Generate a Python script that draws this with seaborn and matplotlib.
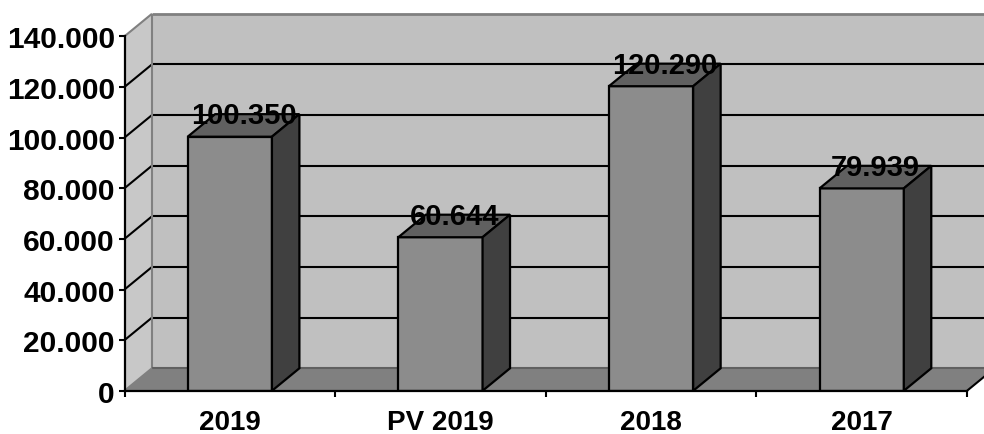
import matplotlib
matplotlib.use("Agg")
import matplotlib.pyplot as plt
from matplotlib.patches import Polygon
import pandas as pd
import seaborn as sns

categories = ["2019", "PV 2019", "2018", "2017"]
values = [100350, 60644, 120290, 79939]
value_labels = ["100.350", "60.644", "120.290", "79.939"]
y_ticks = [0, 20000, 40000, 60000, 80000, 100000, 120000, 140000]
y_tick_labels = ["0", "20.000", "40.000", "60.000", "80.000", "100.000", "120.000", "140.000"]

sns.set_style("white")
plt.rcParams["font.family"] = ["Liberation Sans", "DejaVu Sans"]
plt.rcParams["font.weight"] = "bold"

W, H = 984, 435
fig = plt.figure(figsize=(W / 100, H / 100), dpi=100, facecolor="white")
ax = fig.add_axes([124.5 / W, (H - 391.8) / H, (967 - 124.5) / W, 354.5 / H])
ax.patch.set_visible(False)

df = pd.DataFrame({"cat": categories, "val": values})
sns.barplot(data=df, x="cat", y="val", color="#8c8c8c", saturation=1, width=0.4,
            edgecolor="black", linewidth=1.6, ax=ax)
ax.set_xlim(-0.5, 3.5)
ax.set_ylim(0, 140000)
ax.set_xlabel("")
ax.set_ylabel("")

DX, DY = 0.1304, 8900
x0, x1 = -0.5, 3.5
ytop = y_ticks[-1]


def poly(pts, face, edge="none", lw=0, z=1):
    ax.add_patch(Polygon(pts, closed=True, facecolor=face, edgecolor=edge,
                         linewidth=lw, zorder=z, clip_on=False))


def line(xs, ys, color="black", lw=1.5, z=1.5):
    ax.plot(xs, ys, color=color, lw=lw, zorder=z, clip_on=False, solid_capstyle="butt")


# walls and floor
poly([(x0 + DX, DY), (x1 + DX, DY), (x1 + DX, ytop + DY), (x0 + DX, ytop + DY)], "#c0c0c0", z=0.5)
poly([(x0, 0), (x0 + DX, DY), (x0 + DX, ytop + DY), (x0, ytop)], "#c8c8c8", z=0.6)
poly([(x0, 0), (x1, 0), (x1 + DX, DY), (x0 + DX, DY)], "#808080", z=0.7)

# grid on the back and left walls
for t in y_ticks[1:-1]:
    line([x0 + DX, x1 + DX], [t + DY, t + DY])
    line([x0, x0 + DX], [t, t + DY])

# wall edges
line([x0 + DX, x1 + DX], [ytop + DY, ytop + DY], "#808080", 2)
line([x0, x0 + DX], [ytop, ytop + DY], "#808080", 1.5)
line([x0 + DX, x0 + DX], [DY, ytop + DY], "#808080", 1.5)
line([x0 + DX, x1 + DX], [DY, DY], "#606060", 1.5)
line([x0, x0 + DX], [0, DY], "#808080", 1.5)
line([x1, x1 + DX], [0, DY], "black", 1.5)

# bar tops, sides and value labels, derived from the seaborn bars
for bar, lab in zip(ax.patches[:len(values)], value_labels):
    bar.set_zorder(3)
    l, r, v = bar.get_x(), bar.get_x() + bar.get_width(), bar.get_height()
    poly([(l, v), (r, v), (r + DX, v + DY), (l + DX, v + DY)], "#606060", "black", 1.6, 3)
    poly([(r, 0), (r + DX, DY), (r + DX, v + DY), (r, v)], "#404040", "black", 1.6, 3)
    ax.text((l + r + DX) / 2, v + DY - 400, lab, ha="center", va="center", fontsize=21,
            fontweight="bold", color="black", zorder=5)

# axes
for s in ("top", "right"):
    ax.spines[s].set_visible(False)
for s in ("left", "bottom"):
    ax.spines[s].set_color("black")
    ax.spines[s].set_linewidth(1.6)
    ax.spines[s].set_zorder(4)

ax.set_yticks(y_ticks, y_tick_labels)
ax.set_xticks(range(len(categories)), categories)
ax.set_xticks([-0.5, 0.5, 1.5, 2.5, 3.5], minor=True)
ax.tick_params(axis="y", left=True, length=4, width=1.5, color="black", pad=3,
               labelsize=21.5, labelcolor="black")
ax.tick_params(axis="x", which="major", bottom=False, length=0, pad=13, labelsize=20,
               labelcolor="black")
ax.tick_params(axis="x", which="minor", bottom=True, length=4, width=1.5, color="black")
for t in ax.get_xticklabels() + ax.get_yticklabels():
    t.set_fontweight("bold")

fig.savefig("out.png", dpi=100, facecolor="white")
